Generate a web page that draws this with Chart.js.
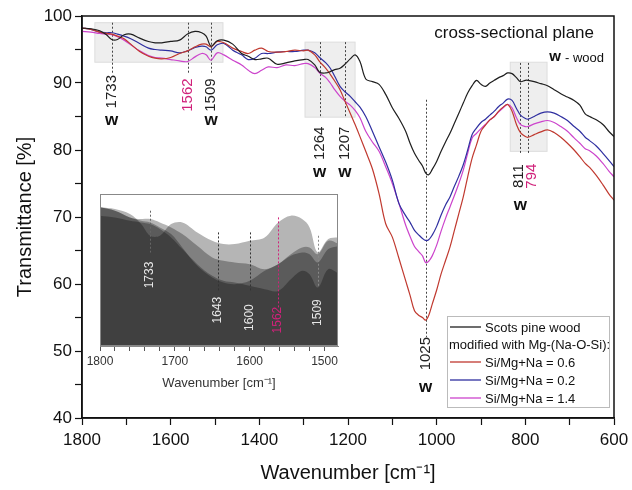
<!DOCTYPE html>
<html>
<head>
<meta charset="utf-8">
<script src="https://cdn.jsdelivr.net/npm/chart.js@4.4.1/dist/chart.umd.min.js"></script>
<style>
  html, body { margin: 0; padding: 0; background: #fff; }
  #wrap { position: relative; width: 632px; height: 490px; }
  #mainChart { position: absolute; left: 0; top: 0; }
  #insetChart { position: absolute; left: 80px; top: 188px; }
</style>
</head>
<body>
<div id="wrap">
  <canvas id="mainChart" width="632" height="490"></canvas>
  <canvas id="insetChart" width="272" height="205"></canvas>
</div>
<script>
'use strict';

// wavenumber grid (cm-1) shared by all spectra
const wavenumbers = [1800,1780,1760,1745,1733,1720,1705,1690,1670,1650,1635,1620,1600,1580,1562,1545,1530,1520,1509,1495,1480,
  1460,1440,1425,1410,1395,1380,1360,1340,1320,1300,1290,1275,1264,1250,1240,1230,1218,1207,1195,1184,1173,1160,1145,1130,1115,
  1100,1085,1070,1060,1050,1040,1032,1025,1018,1010,1000,990,980,970,960,950,940,930,920,910,900,890,880,870,860,850,840,830,820,
  811,800,794,780,765,750,735,720,705,690,677,665,655,640,625,612,600];

const scotsPine = [98.2,98.1,97.8,97.2,96.5,96.5,97.2,97.3,96.7,96.2,96.0,96.0,96.2,96.4,97.3,97.7,97.5,97.0,95.5,96.3,96.4,
  95.8,94.4,94.0,93.5,93.6,93.7,92.8,93.0,93.3,93.5,93.5,92.7,91.6,91.5,91.7,92.0,92.2,92.8,93.6,94.2,93.2,90.6,90.2,89.8,88.3,
  86.3,84.7,82.8,81.0,79.5,78.4,77.6,76.6,76.3,77.1,78.3,79.8,81.2,82.5,84.0,85.5,87.0,88.5,89.6,90.4,89.8,89.5,90.0,90.4,90.8,91.1,91.5,91.4,90.8,
  90.2,90.4,90.4,90.2,89.9,89.6,89.0,88.4,87.9,87.4,86.7,85.4,85.0,84.5,83.8,82.8,82.0];

const siMg06 = [98.2,98.0,97.6,97.4,97.3,97.0,96.6,95.8,94.7,94.0,93.7,93.6,93.8,94.4,94.8,95.4,95.8,95.8,95.4,96.2,96.0,
  95.2,94.7,94.4,94.9,95.2,94.7,94.6,94.7,94.9,94.8,94.9,94.2,93.2,92.2,91.3,90.3,89.0,87.3,85.5,83.8,82.0,79.8,77.2,73.5,69.0,
  67.0,63.8,60.5,58.3,56.0,55.3,55.0,54.6,55.3,57.0,59.1,61.5,63.5,65.5,68.0,70.5,73.0,76.0,78.8,80.8,82.8,83.7,84.5,85.0,85.8,86.4,86.8,85.8,83.8,
  82.6,82.0,81.9,82.3,82.7,83.0,82.6,81.9,81.0,80.0,79.0,78.0,77.4,76.2,74.8,73.5,72.5];

const siMg02 = [98.2,98.0,97.6,97.5,97.5,97.3,97.0,96.6,95.9,95.2,95.0,94.9,94.8,94.5,94.8,95.3,95.5,95.4,94.9,95.7,95.9,
  94.9,94.2,93.5,93.7,94.4,94.4,94.6,94.7,94.7,94.9,94.9,94.5,93.8,93.0,92.2,91.0,89.5,88.7,88.0,87.2,86.4,85.0,82.8,80.5,78.2,
  75.5,72.0,70.2,69.2,68.0,67.3,66.8,66.5,66.6,67.3,68.6,70.3,71.8,73.0,74.6,76.1,77.8,80.0,82.3,83.3,84.1,84.6,85.2,85.8,86.5,87.0,87.6,87.4,86.2,
  85.2,84.7,84.6,85.0,85.5,85.7,85.5,85.0,84.4,83.5,82.8,81.9,81.4,80.6,79.5,78.5,77.5];

const siMg14 = [97.7,97.6,97.4,97.3,97.2,96.9,96.4,95.7,94.8,94.1,93.8,93.7,93.5,93.3,93.2,93.9,94.4,94.2,93.4,94.5,94.2,
  93.4,92.7,91.9,91.4,91.9,92.4,92.3,92.7,92.6,92.9,92.9,92.3,91.5,90.8,90.0,89.0,88.0,87.3,86.7,85.9,84.8,82.8,81.2,79.8,77.5,
  75.0,72.0,68.8,67.1,65.6,64.8,64.2,63.2,63.4,64.2,65.8,67.9,69.8,71.5,73.2,75.0,77.0,79.5,81.8,82.5,83.2,83.8,84.5,85.0,85.7,86.3,86.8,86.3,84.8,
  83.8,83.5,83.5,83.9,84.2,84.4,84.1,83.5,82.8,81.8,81.0,80.2,79.9,79.1,78.0,76.9,76.0];

const seriesLabels = ['Scots pine wood', 'Si/Mg+Na = 0.6', 'Si/Mg+Na = 0.2', 'Si/Mg+Na = 1.4'];
const seriesColors = ['#1e1e1e', '#c0392f', '#2f2fa0', '#cc44cc'];
const allSeries = [scotsPine, siMg06, siMg02, siMg14];

// marked bands
const bandWn = [1733, 1562, 1509, 1264, 1207, 1025, 811, 794];
const insetBandWn = [1733, 1643, 1600, 1562, 1509];

const PINK = '#d0217a';
const FONT = "'Liberation Sans', Arial, sans-serif";

function toPoints(vals, minWn) {
  let pts = [];
  for (let i = 0; i < wavenumbers.length; i++) {
    if (minWn === undefined || wavenumbers[i] >= minWn) pts.push({x: wavenumbers[i], y: vals[i]});
  }
  return pts;
}

// tick marks on round numbers only, from lo to hi
function stepTicks(lo, hi, step) {
  return function(scale) {
    let t = [];
    for (let v = lo; v <= hi; v += step) t.push({value: v});
    scale.ticks = t;
  };
}

function vText(ctx, txt, x, y, color, font) {
  ctx.save();
  ctx.translate(x, y);
  ctx.rotate(-Math.PI / 2);
  ctx.fillStyle = color;
  ctx.font = font;
  ctx.textAlign = 'center';
  ctx.textBaseline = 'middle';
  ctx.fillText(txt, 0, 0);
  ctx.restore();
}

// layout of the annotations on the main plot (value units)
const mainBands = {
  top:    [99, 99, 99, 96.1, 96.1, 87.5, 93.0, 93.0],
  bottom: [91.5, 91.5, 91.5, 84.9, 84.9, 52.1, 79.3, 79.3],
  labelY: [88.7, 88.2, 88.2, 81.0, 81.0, 49.6, 76.1, 76.1],
  labelDx: [0, 0, 0, 0, 0, 0, -2, 4],
  woodY:  [84.5, null, 84.5, 76.6, 76.6, 44.6, 71.8, null],
  color:  ['#222', PINK, '#222', '#222', '#222', '#222', '#222', PINK]
};
const shadedBoxes = [[1771, 1482, 99.0, 93.1], [1297, 1184, 96.1, 84.9], [834, 751, 93.1, 79.8]];

const mainDecor = {
  id: 'mainDecor',
  beforeDatasetsDraw(chart) {
    const {ctx, scales: {x, y}} = chart;
    ctx.save();
    shadedBoxes.forEach(b => {
      let x1 = x.getPixelForValue(b[0]), x2 = x.getPixelForValue(b[1]);
      let y1 = y.getPixelForValue(b[2]), y2 = y.getPixelForValue(b[3]);
      ctx.fillStyle = '#eeeeee';
      ctx.fillRect(x1, y1, x2 - x1, y2 - y1);
      ctx.strokeStyle = '#dddddd';
      ctx.lineWidth = 1;
      ctx.strokeRect(x1, y1, x2 - x1, y2 - y1);
    });
    ctx.setLineDash([2, 2]);
    ctx.lineWidth = 1;
    ctx.strokeStyle = '#444';
    bandWn.forEach((w, i) => {
      let px = Math.round(x.getPixelForValue(w)) + 0.5;
      ctx.beginPath();
      ctx.moveTo(px, y.getPixelForValue(mainBands.top[i]));
      ctx.lineTo(px, y.getPixelForValue(mainBands.bottom[i]));
      ctx.stroke();
    });
    ctx.restore();
  },
  afterDatasetsDraw(chart) {
    const {ctx, chartArea, scales: {x, y}} = chart;
    ctx.save();
    bandWn.forEach((w, i) => {
      let px = x.getPixelForValue(w);
      vText(ctx, String(w), px + mainBands.labelDx[i], y.getPixelForValue(mainBands.labelY[i]), mainBands.color[i], '15px ' + FONT);
      if (mainBands.woodY[i] !== null) {
        ctx.fillStyle = '#111';
        ctx.font = 'bold 17px ' + FONT;
        ctx.textAlign = 'center';
        ctx.textBaseline = 'middle';
        ctx.fillText('w', px, y.getPixelForValue(mainBands.woodY[i]));
      }
    });

    // titles inside the plot
    ctx.fillStyle = '#111';
    ctx.textBaseline = 'middle';
    ctx.textAlign = 'right';
    ctx.font = '17px ' + FONT;
    ctx.fillText('cross-sectional plane', 594, 33);
    ctx.font = '13px ' + FONT;
    ctx.fillText('- wood', 604, 58);
    let ww = ctx.measureText('- wood').width;
    ctx.font = 'bold 15px ' + FONT;
    ctx.fillText('w', 604 - ww - 4, 57);

    // legend
    const lx = 447, ly = 316, lw = 162, lh = 91;
    ctx.fillStyle = '#fff';
    ctx.fillRect(lx, ly, lw, lh);
    ctx.strokeStyle = '#bbb';
    ctx.lineWidth = 1;
    ctx.strokeRect(lx + 0.5, ly + 0.5, lw, lh);
    const rows = [327, 362, 380, 398];
    ctx.font = '13px ' + FONT;
    ctx.textAlign = 'left';
    chart.data.datasets.forEach((ds, i) => {
      ctx.strokeStyle = ds.borderColor;
      ctx.lineWidth = 1.3;
      ctx.beginPath();
      ctx.moveTo(lx + 3, rows[i]);
      ctx.lineTo(lx + 34, rows[i]);
      ctx.stroke();
      ctx.fillStyle = '#111';
      ctx.fillText(ds.label, lx + 38, rows[i] + 1);
    });
    ctx.fillText('modified with Mg-(Na-O-Si):', lx + 2, 345);

    // frame
    ctx.strokeStyle = '#111';
    ctx.lineWidth = 1.5;
    ctx.strokeRect(chartArea.left, chartArea.top, chartArea.right - chartArea.left, chartArea.bottom - chartArea.top);
    ctx.restore();
  }
};

new Chart(document.getElementById('mainChart'), {
  type: 'line',
  data: {
    datasets: allSeries.map((s, i) => ({
      label: seriesLabels[i],
      data: toPoints(s),
      borderColor: seriesColors[i],
      borderWidth: 1.2,
      pointRadius: 0,
      tension: 0.35,
      fill: false
    }))
  },
  options: {
    responsive: false,
    devicePixelRatio: 1,
    animation: false,
    layout: { padding: { top: 16, right: 18, left: 0, bottom: 0 } },
    plugins: { legend: { display: false }, tooltip: { enabled: false } },
    scales: {
      x: {
        type: 'linear',
        reverse: true,
        min: 600,
        max: 1800,
        afterFit: s => { s.height = 72; },
        afterBuildTicks: stepTicks(600, 1800, 100),
        ticks: {
          autoSkip: false,
          maxRotation: 0,
          padding: 5,
          color: '#111',
          font: { size: 17, family: FONT },
          callback: v => (Math.round(v) % 200 === 0 ? Math.round(v) : '')
        },
        grid: { drawOnChartArea: false, drawTicks: true, tickLength: 7, color: '#111', tickWidth: 1.2 },
        border: { display: true, color: '#111', width: 1.5 },
        title: {
          display: true,
          text: 'Wavenumber [cm\u207B\u00B9]',
          color: '#111',
          font: { size: 20, family: FONT },
          padding: { top: 0, bottom: 5 }
        }
      },
      y: {
        min: 40,
        max: 100,
        afterFit: s => { s.width = 82; },
        afterBuildTicks: stepTicks(40, 100, 5),
        ticks: {
          autoSkip: false,
          padding: 3,
          color: '#111',
          font: { size: 17, family: FONT },
          callback: v => (Math.round(v) % 10 === 0 ? Math.round(v) : '')
        },
        grid: { drawOnChartArea: false, drawTicks: true, tickLength: 7, color: '#111', tickWidth: 1.2 },
        border: { display: true, color: '#111', width: 1.5 },
        title: {
          display: true,
          text: 'Transmittance [%]',
          color: '#111',
          font: { size: 20, family: FONT },
          padding: { top: 13, bottom: 0 }
        }
      }
    }
  },
  plugins: [mainDecor]
});

// ---- inset: 1800-1480 cm-1 as stacked translucent areas ----
const insetBands = {
  top:    [98.0, 96.7, 96.7, 97.6, 96.5],
  bottom: [95.5, 93.1, 93.1, 92.2, 93.4],
  labelY: [94.15, 92.05, 91.6, 91.45, 91.9],
  color:  ['#e8e8e8', '#e8e8e8', '#e8e8e8', PINK, '#e8e8e8'],
  line:   ['#666', '#333', '#333', PINK, '#888']
};

const insetDecor = {
  id: 'insetDecor',
  beforeDatasetsDraw(chart) {
    const {ctx, chartArea: a} = chart;
    ctx.save();
    ctx.fillStyle = '#fff';
    ctx.fillRect(a.left, a.top, a.right - a.left, a.bottom - a.top);
    ctx.restore();
  },
  afterDatasetsDraw(chart) {
    const {ctx, chartArea: a, scales: {x, y}} = chart;
    ctx.save();
    ctx.setLineDash([2, 2]);
    ctx.lineWidth = 1;
    insetBandWn.forEach((w, i) => {
      let px = Math.round(x.getPixelForValue(w)) + 0.5;
      ctx.strokeStyle = insetBands.line[i];
      ctx.beginPath();
      ctx.moveTo(px, y.getPixelForValue(insetBands.top[i]));
      ctx.lineTo(px, y.getPixelForValue(insetBands.bottom[i]));
      ctx.stroke();
    });
    ctx.setLineDash([]);
    insetBandWn.forEach((w, i) => {
      vText(ctx, String(w), x.getPixelForValue(w), y.getPixelForValue(insetBands.labelY[i]), insetBands.color[i], '12px ' + FONT);
    });
    ctx.strokeStyle = '#888';
    ctx.lineWidth = 1;
    ctx.strokeRect(a.left + 0.5, a.top + 0.5, a.right - a.left - 1, a.bottom - a.top - 1);
    ctx.restore();
  }
};

new Chart(document.getElementById('insetChart'), {
  type: 'line',
  data: {
    datasets: allSeries.map((s, i) => ({
      label: seriesLabels[i],
      data: toPoints(s, 1480),
      borderWidth: 0,
      borderColor: 'rgba(0,0,0,0)',
      backgroundColor: 'rgba(0,0,0,0.29)',
      pointRadius: 0,
      tension: 0.35,
      fill: 'start'
    }))
  },
  options: {
    responsive: false,
    devicePixelRatio: 1,
    animation: false,
    layout: { padding: { top: 6, right: 14, left: 20, bottom: 0 } },
    plugins: { legend: { display: false }, tooltip: { enabled: false } },
    scales: {
      x: {
        type: 'linear',
        reverse: true,
        min: 1482,
        max: 1800,
        afterFit: s => { s.height = 47; },
        afterBuildTicks: stepTicks(1500, 1800, 20),
        ticks: {
          autoSkip: false,
          maxRotation: 0,
          padding: 3,
          color: '#333',
          font: { size: 12, family: FONT },
          callback: v => (Math.round(v) % 100 === 0 ? Math.round(v) : '')
        },
        grid: { drawOnChartArea: false, drawTicks: true, tickLength: 5, color: '#555' },
        border: { display: true, color: '#888', width: 1 },
        title: {
          display: true,
          text: 'Wavenumber [cm\u207B\u00B9]',
          color: '#333',
          font: { size: 13, family: FONT },
          padding: { top: 0, bottom: 2 }
        }
      },
      y: {
        display: false,
        min: 89.9,
        max: 99
      }
    }
  },
  plugins: [insetDecor]
});
</script>
</body>
</html>
